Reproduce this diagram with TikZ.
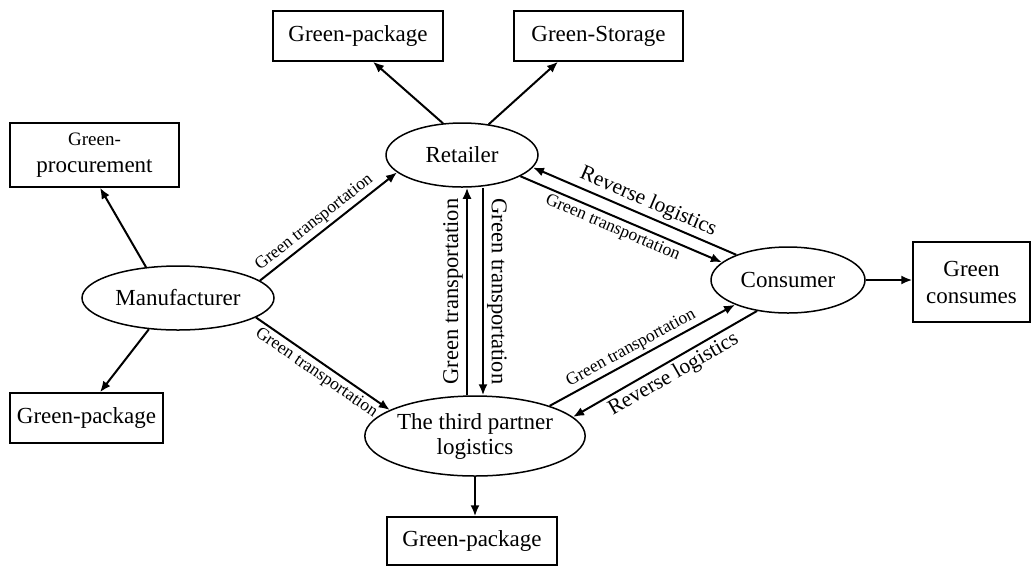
\documentclass[tikz,border=0pt]{standalone}
\usepackage{fontspec}
\setmainfont{Liberation Serif}
\usetikzlibrary{shapes.geometric,arrows.meta}
\begin{document}
\begin{tikzpicture}[x=1pt,y=-1pt,
  ell/.style={draw,ellipse,line width=1.5pt,inner sep=0pt,align=center,font=\fontsize{23}{25}\selectfont},
  boxnode/.style={draw,rectangle,line width=1.5pt,inner sep=0pt,align=center,font=\fontsize{23}{27}\selectfont},
  arr/.style={line width=2pt,-{Latex[length=11pt,width=9pt]}},
  rarr/.style={line width=2pt,{Latex[length=11pt,width=9pt]}-},
  small/.style={font=\fontsize{17.5}{19}\selectfont,inner sep=3pt},
  rev/.style={font=\fontsize{21.5}{23}\selectfont,inner sep=3pt},
  vert/.style={font=\fontsize{22.5}{24}\selectfont,inner sep=3pt}]
\useasboundingbox (0,0) rectangle (1032,566);
% ellipses
\node[ell,minimum width=192pt,minimum height=64pt] (man) at (178,298) {Manufacturer};
\node[ell,minimum width=152pt,minimum height=64pt] (ret) at (462,155) {Retailer};
\node[ell,minimum width=208pt,minimum height=80pt] (third) at (475,436) {The third partner\\logistics};
\node[ell,minimum width=154pt,minimum height=66pt] (cons) at (788,280) {Consumer};
% boxes
\node[boxnode,minimum width=169pt,minimum height=64pt] (proc) at (94.5,155) {{\fontsize{19}{21}\selectfont Green-}\\procurement};
\node[boxnode,minimum width=153pt,minimum height=50pt] (pkgL) at (86.5,418) {Green-package};
\node[boxnode,minimum width=170pt,minimum height=50pt] (pkgT) at (358,36) {Green-package};
\node[boxnode,minimum width=169pt,minimum height=50pt] (stor) at (598.5,36) {Green-Storage};
\node[boxnode,minimum width=170pt,minimum height=48pt] (pkgB) at (472,541) {Green-package};
\node[boxnode,minimum width=117pt,minimum height=80pt] (gc) at (971.5,282) {Green\\consumes};
% manufacturer arrows
\draw[arr] (man.136) -- ([xshift=5.5pt]proc.south);
\draw[arr] (man.-133) -- ([xshift=13.5pt]pkgL.north);
\draw[arr] (man.12) -- node[small,sloped,above,pos=0.45] {Green transportation} (ret.195);
\draw[arr] (man.-14) -- node[small,sloped,below,pos=0.5] {Green transportation} (third.163);
% retailer arrows
\draw[arr] (ret.121) -- ([xshift=15pt]pkgT.south);
\draw[arr] (ret.49) -- ([xshift=-40.5pt]stor.south);
% vertical
\draw[arr] ([xshift=-8pt]third.north) -- node[vert,rotate=90,anchor=south] {Green transportation} ([xshift=5pt]ret.south);
\draw[arr] ([xshift=21pt]ret.south) -- node[vert,rotate=-90,anchor=south] {Green transportation} ([xshift=8pt]third.north);
% retailer <-> consumer
\draw[rarr] (ret.-10) -- node[rev,sloped,above,pos=0.54] {Reverse logistics} (cons.154);
\draw[arr] (ret.-20) -- node[small,sloped,below,pos=0.48] {Green transportation} (cons.165);
% third <-> consumer
\draw[arr] (third.22) -- node[small,sloped,above,pos=0.47] {Green transportation} (cons.205);
\draw[rarr] (third.11) -- node[rev,sloped,below,pos=0.51] {Reverse logistics} (cons.225);
% consumer and third outputs
\draw[arr] (cons.east) -- (cons.east -| gc.west);
\draw[arr] (third.south) -- (third.south |- pkgB.north);
\end{tikzpicture}
\end{document}
